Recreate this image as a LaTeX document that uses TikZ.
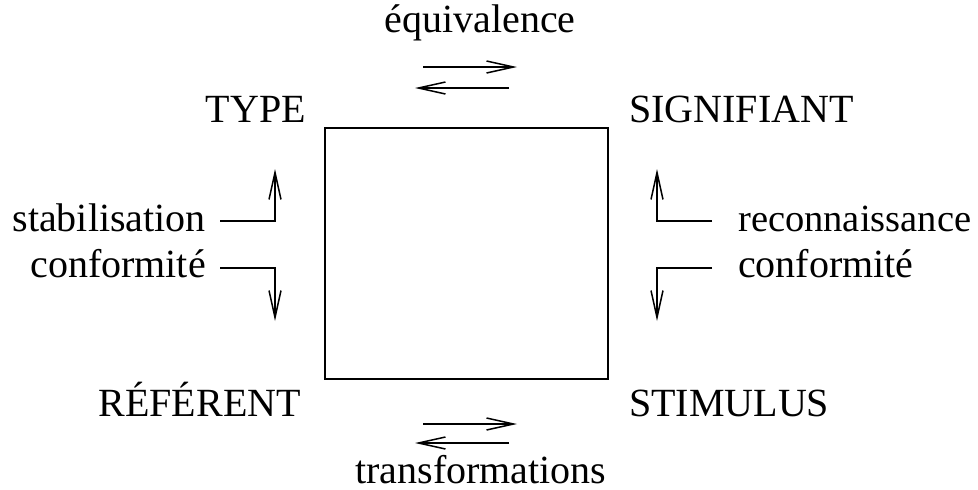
\documentclass[tikz,border=0pt]{standalone}
\usepackage{fontspec}
\setmainfont{Liberation Serif}
\usetikzlibrary{arrows.meta}
\begin{document}
\begin{tikzpicture}[x=1pt,y=-1pt,
  lbl/.style={inner sep=0pt,font=\fontsize{40}{48}\selectfont},
  conn/.style={line width=1.5pt,-{Straight Barb[length=27pt,width=12pt,line width=1.5pt]}}]
\useasboundingbox (0,0) rectangle (978,490);
% central box
\node[draw,line width=1.4pt,minimum width=283pt,minimum height=251pt,inner sep=0pt] (box) at (466.5,253.5) {};
% corner labels
\node[lbl,anchor=base east] (type) at (306,122) {TYPE};
\node[lbl,anchor=base west] (sig) at (629,122) {SIGNIFIANT};
\node[lbl,anchor=base east] (ref) at (301,416) {RÉFÉRENT};
\node[lbl,anchor=base west] (stim) at (629,416) {STIMULUS};
% side labels
\node[lbl,anchor=base] (equiv) at (480,32) {équivalence};
\node[lbl,anchor=base] (trans) at (481,483) {transformations};
\node[lbl,anchor=base east] (stab) at (206,231) {stabilisation};
\node[lbl,anchor=base east] (confl) at (206,277) {conformité};
\node[lbl,anchor=base west,font=\fontsize{38.5}{46}\selectfont] (reco) at (738,231) {reconnaissance};
\node[lbl,anchor=base west] (confr) at (738,277) {conformité};
% coordinates
\coordinate (e1s) at (423,67); \coordinate (e1e) at (517,67);
\coordinate (e2s) at (509,88); \coordinate (e2e) at (415,88);
\coordinate (t1s) at (423,424); \coordinate (t1e) at (517,424);
\coordinate (t2s) at (509,443); \coordinate (t2e) at (415,443);
\coordinate (la) at (220,221); \coordinate (lac) at (275,221); \coordinate (lat) at (275,169);
\coordinate (lb) at (220,268); \coordinate (lbc) at (275,268); \coordinate (lbt) at (275,321);
\coordinate (ra) at (712,221); \coordinate (rac) at (657,221); \coordinate (rat) at (657,169);
\coordinate (rb) at (712,268); \coordinate (rbc) at (657,268); \coordinate (rbt) at (657,321);
% connectors
\draw[conn] (e1s) -- (e1e);
\draw[conn] (e2s) -- (e2e);
\draw[conn] (t1s) -- (t1e);
\draw[conn] (t2s) -- (t2e);
\draw[conn] (la) -- (lac) -- (lat);
\draw[conn] (lb) -- (lbc) -- (lbt);
\draw[conn] (ra) -- (rac) -- (rat);
\draw[conn] (rb) -- (rbc) -- (rbt);
\end{tikzpicture}
\end{document}
